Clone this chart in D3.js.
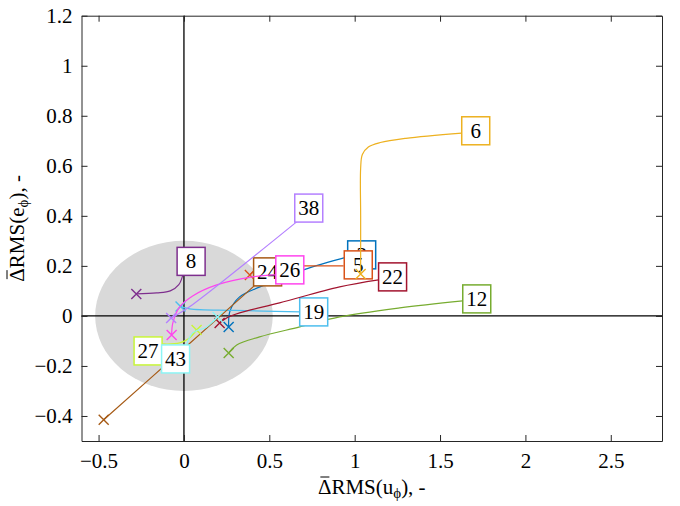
<!DOCTYPE html>
<html>
<head>
<meta charset="utf-8">
<script src="https://cdn.jsdelivr.net/npm/d3@7"></script>
<style>
  body { margin: 0; background: white; }
</style>
</head>
<body>
<svg width="680" height="506"></svg>
<script>
var width = 680, height = 506;
var margin = {left: 81.5, right: 18, top: 15.7, bottom: 65};
var serif = "'Liberation Serif'";

// case ids and their colours
var ids = ["3", "5", "6", "8", "12", "19", "22", "24", "26", "27", "38", "43"];
var colors = ["#0072BD", "#D95319", "#EDB120", "#7E2F8E", "#77AC30", "#4DBEEE",
              "#A2142F", "#A65A15", "#FF44EE", "#C8F53A", "#B480FF", "#8DF5F5"];

// tracks, first point = start (x marker), last point = where the label sits
var tracks = [
  [[0.262, -0.044], [0.27, 0.02], [0.326, 0.076], [0.445, 0.116], [0.70, 0.184], [0.958, 0.236]],
  [[0.386, 0.164], [0.42, 0.185], [0.5, 0.198], [0.7, 0.2], [0.935, 0.2]],
  [[1.035, 0.168], [1.035, 0.4], [1.035, 0.59], [1.045, 0.645], [1.08, 0.675], [1.15, 0.693], [1.3, 0.71], [1.627, 0.731]],
  [[-0.279, 0.088], [-0.16, 0.092], [-0.08, 0.1], [-0.03, 0.125], [-0.008, 0.16]],
  [[0.262, -0.148], [0.309, -0.116], [0.443, -0.084], [0.678, -0.044], [0.912, -0.004], [1.264, 0.032], [1.632, 0.06]],
  [[-0.02, 0.038], [0.033, 0.028], [0.3, 0.022], [0.682, 0.016]],
  [[0.209, -0.028], [0.25, -0.008], [0.326, 0.012], [0.56, 0.052], [0.912, 0.116], [1.14, 0.144]],
  [[-0.47, -0.415], [0.0, -0.13], [0.418, 0.124]],
  [[-0.072, -0.076], [-0.065, -0.028], [-0.025, 0.036], [0.051, 0.08], [0.192, 0.124], [0.403, 0.156], [0.537, 0.164]],
  [[0.074, -0.056], [0.033, -0.088], [-0.025, -0.108], [-0.125, -0.112]],
  [[-0.075, -0.008], [-0.04, 0.005], [0.05, 0.045], [0.66, 0.376]],
  [[0.197, -0.004], [0.133, -0.044], [0.051, -0.068], [0.016, -0.116]]
];

// label box centres
var labelX = [1.041, 1.021, 1.709, 0.042, 1.715, 0.76, 1.222, 0.49, 0.62, -0.21, 0.731, -0.049];
var labelY = [0.244, 0.204, 0.74, 0.218, 0.068, 0.016, 0.156, 0.176, 0.184, -0.14, 0.431, -0.172];

var xTicks = [-0.5, 0, 0.5, 1, 1.5, 2, 2.5];
var yTicks = [-0.4, -0.2, 0, 0.2, 0.4, 0.6, 0.8, 1, 1.2];

// grey region
var regionRx = 0.52, regionRy = 0.3;

var svg = d3.select('svg');
svg.append('rect').attr('width', width).attr('height', height).attr('fill', 'white');

var x = d3.scaleLinear().domain([-0.6, 2.8]).range([margin.left, width - margin.right]);
var y = d3.scaleLinear().domain([-0.5, 1.2]).range([height - margin.bottom, margin.top]);

var fmt = d3.format("~g");
var axisColor = "#262626";
var fs = '21px';

svg.append('ellipse')
  .attr('cx', x(0)).attr('cy', y(0))
  .attr('rx', x(regionRx) - x(0))
  .attr('ry', y(0) - y(regionRy))
  .attr('fill', '#d9d9d9');

// zero lines
svg.append('line')
  .attr('x1', x(0)).attr('x2', x(0))
  .attr('y1', y.range()[0]).attr('y2', y.range()[1])
  .attr('stroke', 'black').attr('stroke-width', 1.3);
svg.append('line')
  .attr('x1', x.range()[0]).attr('x2', x.range()[1])
  .attr('y1', y(0)).attr('y2', y(0))
  .attr('stroke', 'black').attr('stroke-width', 1.3);

// axes, box on, ticks inward
function styleAxis(g) {
  g.attr('font-family', serif).attr('font-size', 21);
  g.select('.domain').attr('stroke', axisColor).attr('stroke-width', 1);
  g.selectAll('.tick line').attr('stroke', axisColor).attr('stroke-width', 1);
  g.selectAll('.tick text').attr('fill', 'black')
    .style('font-family', serif).style('font-size', fs);
}

svg.append('g')
  .attr('transform', 'translate(0,' + y.range()[0] + ')')
  .call(d3.axisBottom(x).tickValues(xTicks).tickFormat(fmt).tickSizeInner(-6).tickSizeOuter(0).tickPadding(12))
  .call(styleAxis);
svg.append('g')
  .attr('transform', 'translate(0,' + y.range()[1] + ')')
  .call(d3.axisTop(x).tickValues(xTicks).tickFormat('').tickSizeInner(-6).tickSizeOuter(0))
  .call(styleAxis);
svg.append('g')
  .attr('transform', 'translate(' + x.range()[0] + ',0)')
  .call(d3.axisLeft(y).tickValues(yTicks).tickFormat(fmt).tickSizeInner(-6).tickSizeOuter(0).tickPadding(9))
  .call(styleAxis);
svg.append('g')
  .attr('transform', 'translate(' + x.range()[1] + ',0)')
  .call(d3.axisRight(y).tickValues(yTicks).tickFormat('').tickSizeInner(-6).tickSizeOuter(0))
  .call(styleAxis);

// axis labels: Delta with a bar, subscript phi
function axisLabel(transform, letter) {
  var g = svg.append('g').attr('transform', transform);
  var t = g.append('text')
    .attr('text-anchor', 'middle')
    .style('font-family', serif)
    .style('font-size', fs);
  t.append('tspan').text('\u0394RMS(' + letter);
  t.append('tspan').attr('dy', 4).style('font-size', '15px').text('\u03D5');
  t.append('tspan').attr('dy', -4).text('), -');
  var ext = t.node().getExtentOfChar(0);
  g.append('line')
    .attr('x1', ext.x + 2.5).attr('x2', ext.x + ext.width - 2)
    .attr('y1', ext.y + 2).attr('y2', ext.y + 2)
    .attr('stroke', 'black').attr('stroke-width', 1);
}
axisLabel('translate(' + ((x.range()[0] + x.range()[1]) / 2) + ',494)', 'u');
axisLabel('translate(24,' + ((y.range()[0] + y.range()[1]) / 2) + ') rotate(-90)', 'e');

// tracks with start markers and labels, one group per case
var line = d3.line()
  .x(function(d) { return x(d[0]); })
  .y(function(d) { return y(d[1]); })
  .curve(d3.curveCatmullRom.alpha(0.5));

var boxW = 28, boxH = 28, mk = 5;

ids.forEach(function(id, i) {
  var g = svg.append('g').attr('class', 'case');
  var c = colors[i];
  g.append('path')
    .attr('d', line(tracks[i]))
    .attr('fill', 'none')
    .attr('stroke', c)
    .attr('stroke-width', 1.2);
  var p0 = tracks[i][0];
  g.append('path')
    .attr('d', 'M' + (x(p0[0]) - mk) + ',' + (y(p0[1]) - mk) + 'l' + 2 * mk + ',' + 2 * mk +
               'M' + (x(p0[0]) - mk) + ',' + (y(p0[1]) + mk) + 'l' + 2 * mk + ',' + (-2 * mk))
    .attr('stroke', c)
    .attr('stroke-width', 1.4);
  var cx = x(labelX[i]), cy = y(labelY[i]);
  g.append('rect')
    .attr('x', cx - boxW / 2).attr('y', cy - boxH / 2)
    .attr('width', boxW).attr('height', boxH)
    .attr('fill', 'white')
    .attr('stroke', c)
    .attr('stroke-width', 1.5);
  g.append('text')
    .attr('x', cx).attr('y', cy + 7)
    .attr('text-anchor', 'middle')
    .style('font-family', serif)
    .style('font-size', fs)
    .text(id);
});
</script>
</body>
</html>
